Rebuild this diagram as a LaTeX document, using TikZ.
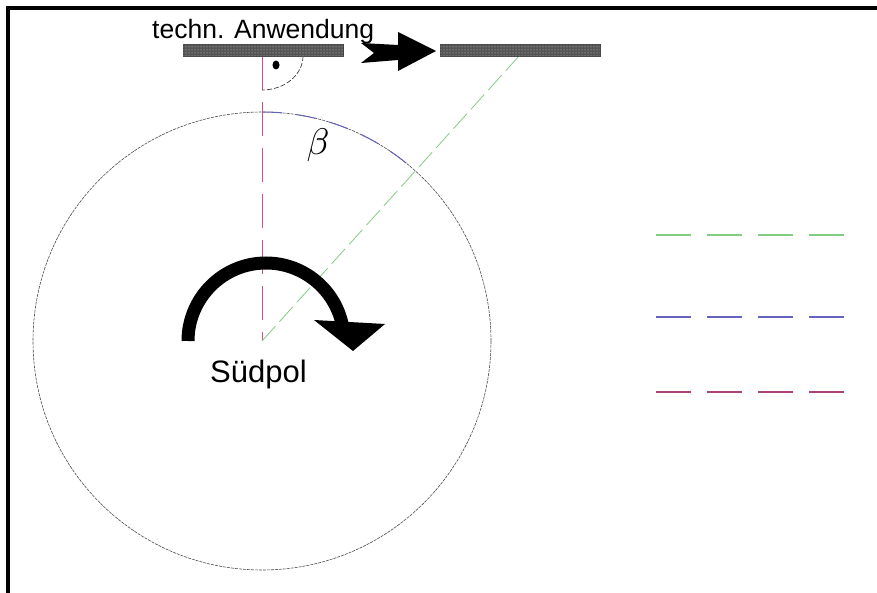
\documentclass[tikz,border=0pt]{standalone}
\usepackage{fontspec}
\setmainfont{Liberation Sans}
\usetikzlibrary{patterns}
\definecolor{pinkline}{RGB}{200,80,140}
\definecolor{greenline}{RGB}{130,205,130}
\definecolor{blueline}{RGB}{100,100,190}
\definecolor{bargray}{RGB}{85,85,85}
\tikzset{
  bar/.style={fill=bargray, draw=bargray!80!black, line width=0.6pt},
  bardots/.style={pattern=dots, pattern color=gray!40},
  pinkdash/.style={draw=pinkline, line width=1pt, dash pattern=on 34pt off 12pt},
  greendash/.style={draw=greenline, line width=0.8pt, dash pattern=on 20pt off 6pt},
  bluedash/.style={draw=blueline, line width=1pt, dash pattern=on 20pt off 14pt},
  legdash/.style={line width=1.2pt, dash pattern=on 35pt off 16pt},
  circleline/.style={draw=black!70, line width=0.6pt, dash pattern=on 3pt off 1pt},
  anglearc/.style={draw=black!75, line width=0.7pt, dash pattern=on 5pt off 2pt},
  frameline/.style={line width=4pt, black},
}
\begin{document}
\begin{tikzpicture}[x=1pt,y=-1pt]
\useasboundingbox (0,0) rectangle (877,593);
% frame (top and left only)
\draw[frameline] (877,8) -- (8,8) -- (8,593);
% coordinates
\coordinate (S) at (262,341);
\coordinate (Gtop) at (519,56);
\coordinate (Ptop) at (262,56);
% circle
\draw[circleline] (S) circle[radius=229];
% beta arc on circle
\draw[bluedash] (262,112) arc[start angle=-90, end angle=-48, radius=229];
% lines
\draw[pinkdash] (Ptop) -- (S);
\draw[greendash] (S) -- (Gtop);
% right angle arc and dot
\draw[anglearc] (303,56) arc[start angle=0, end angle=90, x radius=41, y radius=34];
\fill[black] (276,65) ellipse[x radius=3.5, y radius=4.5];
% bars
\node[bar, minimum width=160pt, minimum height=12pt, inner sep=0pt, anchor=north west] (bar1) at (183,44) {};
\node[bardots, minimum width=160pt, minimum height=12pt, inner sep=0pt, anchor=north west] (bar1d) at (183,44) {};
\node[bar, minimum width=160pt, minimum height=12pt, inner sep=0pt, anchor=north west] (bar2) at (440,44) {};
\node[bardots, minimum width=160pt, minimum height=12pt, inner sep=0pt, anchor=north west] (bar2d) at (440,44) {};
% big arrow
\fill[black] (361,43) -- (398,45) -- (398,32) -- (436,51) -- (398,71) -- (398,60) -- (361,63) -- (374,53) -- cycle;
% text
\node[anchor=base west, inner sep=0pt, font=\fontsize{26.5}{30}\selectfont] (tech) at (152,39) {techn. Anwendung};
\node[anchor=base west, inner sep=0pt, font=\fontsize{31}{36}\selectfont] (sued) at (210,382) {Südpol};
\node[inner sep=0pt, scale=3.7] (beta) at (318,145) {$\beta$};
% rotation arrow
\draw[black, line width=13pt] (188,341) arc[start angle=180, end angle=348, radius=78];
\fill[black] (314,320) -- (385,324) -- (353,351) -- cycle;
% legend lines
\draw[legdash, greenline] (656,235) -- (846,235);
\draw[legdash, blueline] (656,317) -- (846,317);
\draw[legdash, pinkline!85!black] (656,392) -- (846,392);
\end{tikzpicture}
\end{document}
